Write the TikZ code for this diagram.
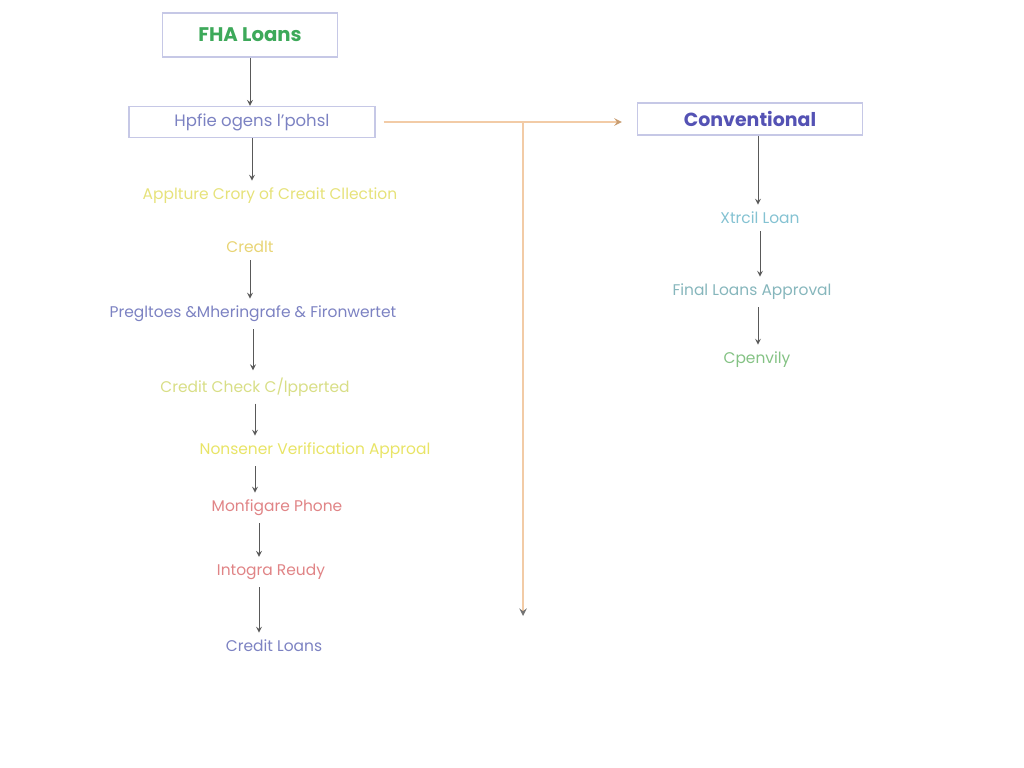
\documentclass[tikz,border=0pt]{standalone}
\usepackage{fontspec}
\setmainfont{Poppins}
\usetikzlibrary{positioning, arrows}
\definecolor{boxline}{HTML}{C6C8E6}
\definecolor{fhagreen}{HTML}{3DA95A}
\definecolor{convblue}{HTML}{5452B4}
\definecolor{slate}{HTML}{7C82C2}
\definecolor{butter}{HTML}{E6E27A}
\definecolor{mustard}{HTML}{E8D474}
\definecolor{lime}{HTML}{D8DE86}
\definecolor{lemon}{HTML}{E8E466}
\definecolor{rose}{HTML}{E08486}
\definecolor{aqua}{HTML}{84C2D2}
\definecolor{teal}{HTML}{86B6BC}
\definecolor{leaf}{HTML}{84C284}
\definecolor{peach}{HTML}{F2CBA6}
\definecolor{tan}{HTML}{C89C70}
\tikzset{
	headbox/.style={
		rectangle,
		draw=boxline,
		line width=0.7pt,
		text centered,
		font=\fontsize{11.2}{13}\selectfont\bfseries,
		minimum height=0.88cm,
	},
	subbox/.style={
		rectangle,
		draw=boxline,
		line width=0.7pt,
		text centered,
		font=\fontsize{9.4}{11}\selectfont,
		minimum height=0.62cm,
	},
	stage/.style={
		text centered,
		font=\fontsize{8.8}{10}\selectfont,
		inner sep=4pt,
	},
	flow/.style={
		->,
		draw=black!65,
		line width=0.5pt,
	},
	branch/.style={
		->,
		draw=peach,
		line width=0.9pt,
	},
}

\begin{document}
\begin{tikzpicture}[node distance = 1.4cm , >=stealth]
		\useasboundingbox (0,0) rectangle (20.48,-15.36);
		% FHA column
		\node [headbox, text=fhagreen, minimum width=3.5cm] (fha) at (5.0,-0.70) {FHA Loans};
		\node [subbox, text=slate, minimum width=4.92cm, below of = fha, node distance=1.74cm, xshift=0.04cm] (hp) {Hpfie ogens l'pohsl};
		\node [stage, text=butter, below of = hp, node distance=1.48cm, xshift=0.36cm] (app) {Applture Crory of Creait Cllection};
		\node [stage, text=mustard, below of = app, node distance=1.02cm, xshift=-0.40cm] (cre) {Credlt};
		\node [stage, text=slate, below of = cre, node distance=1.34cm, xshift=0.06cm] (pre) {Pregltoes \&Mheringrafe \& Fironwertet};
		\node [stage, text=lime, below of = pre, node distance=1.46cm, xshift=0.04cm] (chk) {Credit Check C/lpperted};
		\node [stage, text=lemon, below of = chk, node distance=1.28cm, xshift=1.20cm] (non) {Nonsener Verification Approal};
		\node [stage, text=rose, below of = non, node distance=1.14cm, xshift=-0.76cm] (mon) {Monfigare Phone};
		\node [stage, text=rose, below of = mon, node distance=1.28cm, xshift=-0.12cm] (int) {Intogra Reudy};
		\node [stage, text=slate, below of = int, node distance=1.48cm, xshift=0.06cm] (loa) {Credit Loans};
		
		\draw [flow] (fha.south) to (fha.south |- hp.north);
		\draw [flow] (hp.south) to (hp.south |- app.north);
		\draw [flow] (cre.south) to (cre.south |- pre.north);
		\draw [flow] (pre.south) to (pre.south |- chk.north);
		\draw [flow] (chk.south) to (chk.south |- non.north);
		\draw [flow] (non.south -| chk) to (chk |- mon.north);
		\draw [flow] ([xshift=0.08cm]mon.south -| chk) to ([xshift=0.08cm]chk |- int.north);
		\draw [flow] ([xshift=0.08cm]int.south -| chk) to ([xshift=0.08cm]chk |- loa.north);
		
		% Conventional column
		\node [subbox, font=\fontsize{10.8}{12}\selectfont\bfseries, text=convblue, minimum width=4.5cm, minimum height=0.64cm] (conv) at (15.0,-2.38) {Conventional};
		\node [stage, text=aqua, below of = conv, node distance=1.98cm, xshift=0.20cm] (xtr) {Xtrcil Loan};
		\node [stage, text=teal, below of = xtr, node distance=1.48cm, xshift=-0.16cm] (fin) {Final Loans Approval};
		\node [stage, text=leaf, below of = fin, node distance=1.36cm, xshift=0.10cm] (cpe) {Cpenvily};
		
		\draw [flow] ([xshift=0.16cm]conv.south) to ([xshift=0.16cm]conv.south |- xtr.north);
		\draw [flow] ([xshift=0.2cm]xtr.south -| conv) to ([xshift=0.2cm]conv |- fin.north);
		\draw [flow] ([xshift=0.16cm]fin.south -| conv) to ([xshift=0.16cm]conv |- cpe.north);
		
		% branch between the columns
		\coordinate [right of = hp, node distance=5.42cm] (split);
		\coordinate [below of = split, node distance=9.88cm] (drop);
		\draw [branch, shorten <=0.16cm, shorten >=0.3cm, arrows={->[color=tan]}] (hp.east) to (hp.east -| conv.west);
		\draw [branch, arrows={->[color=black!55]}] (split) to (drop);

	\end{tikzpicture}
\end{document}
